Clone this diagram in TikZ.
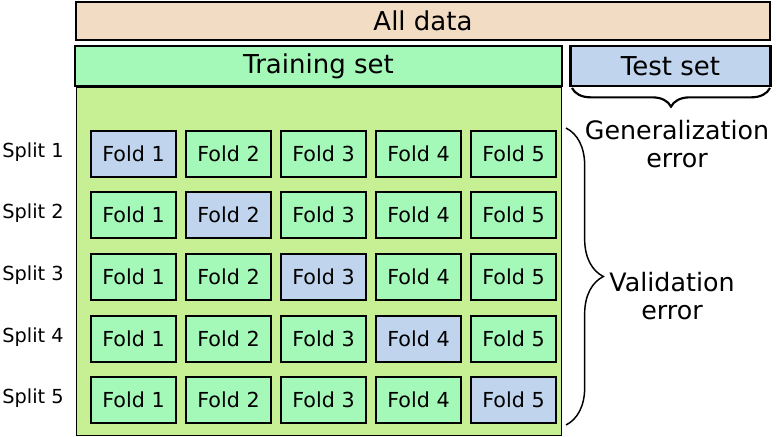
\documentclass[tikz,border=0pt]{standalone}
\usepackage{fontspec}
\setmainfont{DejaVu Sans}
\usetikzlibrary{decorations.pathreplacing}
\definecolor{peach}{HTML}{F2DCC4}
\definecolor{trgreen}{HTML}{A4F8B8}
\definecolor{tsblue}{HTML}{C0D4EE}
\definecolor{bggreen}{HTML}{C6F093}
\begin{document}
\begin{tikzpicture}[x=0.75pt,y=-0.75pt,
  fold/.style={draw=black,line width=1.6pt,fill=trgreen,minimum width=64pt,minimum height=34pt,inner sep=0pt,font=\fontsize{15.5}{18}\selectfont},
  vfold/.style={fold,fill=tsblue},
  head/.style={draw=black,line width=1.6pt,inner sep=0pt,font=\fontsize{19.5}{22}\selectfont},
  lab/.style={font=\fontsize{14.5}{17}\selectfont},
  big/.style={font=\fontsize{19}{21}\selectfont,align=center}]
\useasboundingbox (0,0) rectangle (777,436);
\node[head,fill=peach,minimum width=521pt,minimum height=28pt] (all) at (423,21) {All data};
\node[head,fill=trgreen,minimum width=365pt,minimum height=30pt] (train) at (318.5,66) {Training set};
\node[head,fill=tsblue,minimum width=150pt,minimum height=30pt] (test) at (670.5,66) {Test set};
\node[draw=black,line width=0.5pt,fill=bggreen,minimum width=364pt,minimum height=261pt,inner sep=0pt] (bg) at (319,261) {};
\foreach \r/\y in {1/154,2/215,3/277,4/339,5/400}{
  \node[lab] (s\r) at (33,\y-2) {Split \r};
  \foreach \c/\x in {1/133.5,2/228.5,3/323.5,4/418.5,5/513.5}{
    \ifnum\r=\c
      \node[vfold] (f\r\c) at (\x,\y) {Fold \c};
    \else
      \node[fold] (f\r\c) at (\x,\y) {Fold \c};
    \fi
  }
}
\draw[line width=1.6pt,decorate,decoration={brace,amplitude=14pt}] (770,88) -- (572,88);
\node[big] (gen) at (677,144) {Generalization\\error};
\draw[line width=1.1pt,decorate,decoration={brace,amplitude=28pt}] (566,128) -- (566,425);
\node[big] (val) at (672,296) {Validation\\error};
\end{tikzpicture}
\end{document}
